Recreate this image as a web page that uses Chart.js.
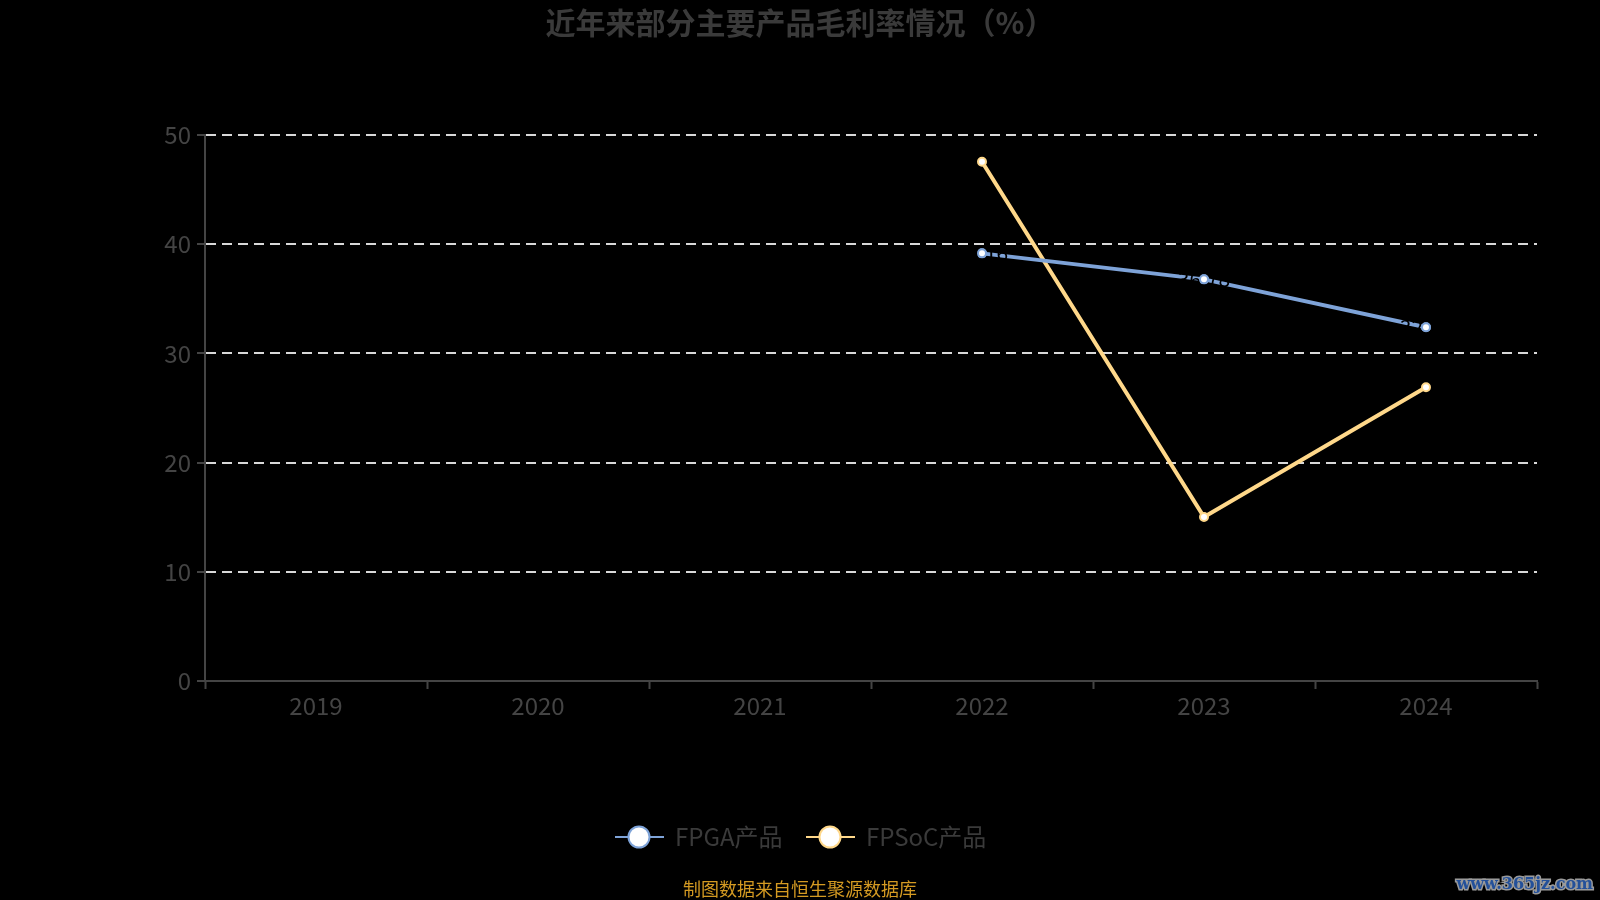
<!DOCTYPE html>
<html>
<head>
<meta charset="utf-8">
<script src="https://cdn.jsdelivr.net/npm/chart.js@4/dist/chart.umd.min.js"></script>
<style>
html,body{margin:0;padding:0;background:#000;}
#wrap{width:1600px;height:900px;position:relative;}
</style>
</head>
<body>
<div id="wrap"><canvas id="c" width="1600" height="900"></canvas></div>
<script>
const categories = ['2019','2020','2021','2022','2023','2024'];
const fpgaValues = [null, null, null, 39.16, 36.78, 32.39];
const fpsocValues = [null, null, null, 47.55, 15.02, 26.90];
const seriesNames = ['FPGA产品', 'FPSoC产品'];
const yTicks = [0, 10, 20, 30, 40, 50];
const titleText = '近年来部分主要产品毛利率情况（%）';
const sourceText = '制图数据来自恒生聚源数据库';
const watermarkText = 'www.365jz.com';

const FONT = '"Noto Sans CJK SC", "Noto Sans", sans-serif';
const colors = ['#7ea3d8', '#ffd88a'];
const labelledSeries = [0];

const extrasPlugin = {
  id: 'extras',
  afterDatasetsDraw(chart) {
    const ctx = chart.ctx;
    ctx.save();
    ctx.font = '21px ' + FONT;
    ctx.fillStyle = '#000';
    ctx.textAlign = 'center';
    ctx.textBaseline = 'middle';
    labelledSeries.forEach((di) => {
      const ds = chart.data.datasets[di];
      const meta = chart.getDatasetMeta(di);
      meta.data.forEach((pt, i) => {
        const v = ds.data[i];
        if (v === null || v === undefined) return;
        ctx.fillText(v.toFixed(2), pt.x, pt.y);
      });
    });
    labelledSeries.forEach((di) => {
      const ds = chart.data.datasets[di];
      const meta = chart.getDatasetMeta(di);
      meta.data.forEach((pt, i) => {
        if (ds.data[i] === null) return;
        pt.draw(ctx, chart.chartArea);
      });
    });
    ctx.restore();
  },
  afterDraw(chart) {
    const ctx = chart.ctx;
    ctx.save();
    // title
    ctx.font = 'bold 30px ' + FONT;
    ctx.fillStyle = '#3a3a3a';
    ctx.textAlign = 'center';
    ctx.textBaseline = 'middle';
    ctx.fillText(titleText, 800, 23);
    // legend
    const items = [
      {lx1: 615, lx2: 664, cx: 639, tx: 675},
      {lx1: 806, lx2: 855, cx: 830, tx: 866}
    ];
    const ly = 837;
    ctx.font = '24px ' + FONT;
    ctx.textAlign = 'left';
    chart.data.datasets.forEach((ds, di) => {
      const it = items[di];
      ctx.strokeStyle = ds.borderColor;
      ctx.lineWidth = 2;
      ctx.beginPath();
      ctx.moveTo(it.lx1, ly);
      ctx.lineTo(it.lx2, ly);
      ctx.stroke();
      ctx.beginPath();
      ctx.arc(it.cx, ly, 10.5, 0, Math.PI * 2);
      ctx.fillStyle = '#fff';
      ctx.fill();
      ctx.lineWidth = 2;
      ctx.stroke();
      ctx.fillStyle = '#3a3a3a';
      ctx.fillText(ds.label, it.tx, ly);
    });
    // source
    ctx.font = '18px ' + FONT;
    ctx.fillStyle = '#d49a22';
    ctx.textAlign = 'center';
    ctx.fillText(sourceText, 800, 889);
    // watermark
    ctx.font = 'bold 16px "DejaVu Serif", serif';
    ctx.textAlign = 'right';
    ctx.lineWidth = 3;
    ctx.strokeStyle = '#9a9a9a';
    ctx.strokeText(watermarkText, 1593, 885);
    ctx.fillStyle = '#23509a';
    ctx.fillText(watermarkText, 1593, 885);
    ctx.restore();
  }
};

new Chart(document.getElementById('c'), {
  type: 'line',
  data: {
    labels: categories,
    datasets: [
      {
        label: seriesNames[0],
        data: fpgaValues,
        borderColor: colors[0],
        backgroundColor: '#fff',
        pointBackgroundColor: '#fff',
        pointBorderColor: colors[0],
        borderWidth: 4,
        pointRadius: 4,
        pointBorderWidth: 2,
        tension: 0
      },
      {
        label: seriesNames[1],
        data: fpsocValues,
        borderColor: colors[1],
        backgroundColor: '#fff',
        pointBackgroundColor: '#fff',
        pointBorderColor: colors[1],
        borderWidth: 4,
        pointRadius: 4,
        pointBorderWidth: 2,
        tension: 0
      }
    ]
  },
  options: {
    responsive: false,
    animation: false,
    devicePixelRatio: 1,
    layout: { padding: { top: 135, right: 63, left: 0, bottom: 0 } },
    plugins: {
      legend: { display: false },
      title: { display: false },
      tooltip: { enabled: false }
    },
    scales: {
      x: {
        offset: true,
        grid: {
          offset: true,
          drawOnChartArea: false,
          drawTicks: true,
          tickLength: 8,
          tickColor: '#444',
          tickWidth: 2
        },
        border: { color: '#444', width: 2 },
        ticks: {
          color: '#444',
          font: { size: 24, family: FONT },
          padding: 2,
          maxRotation: 0
        },
        afterFit(scale) { scale.height = 219; }
      },
      y: {
        min: 0,
        max: 50,
        afterBuildTicks(scale) { scale.ticks = yTicks.map(v => ({ value: v })); },
        grid: {
          color: '#d8d8d8',
          lineWidth: 2,
          drawTicks: true,
          tickLength: 8,
          tickColor: '#444',
          tickWidth: 2,
          tickBorderDash: []
        },
        border: { color: '#444', width: 2, dash: [10, 6] },
        ticks: {
          color: '#444',
          font: { size: 24, family: FONT },
          padding: 6
        },
        afterFit(scale) { scale.width = 205; }
      }
    }
  },
  plugins: [extrasPlugin]
});
</script>
</body>
</html>
